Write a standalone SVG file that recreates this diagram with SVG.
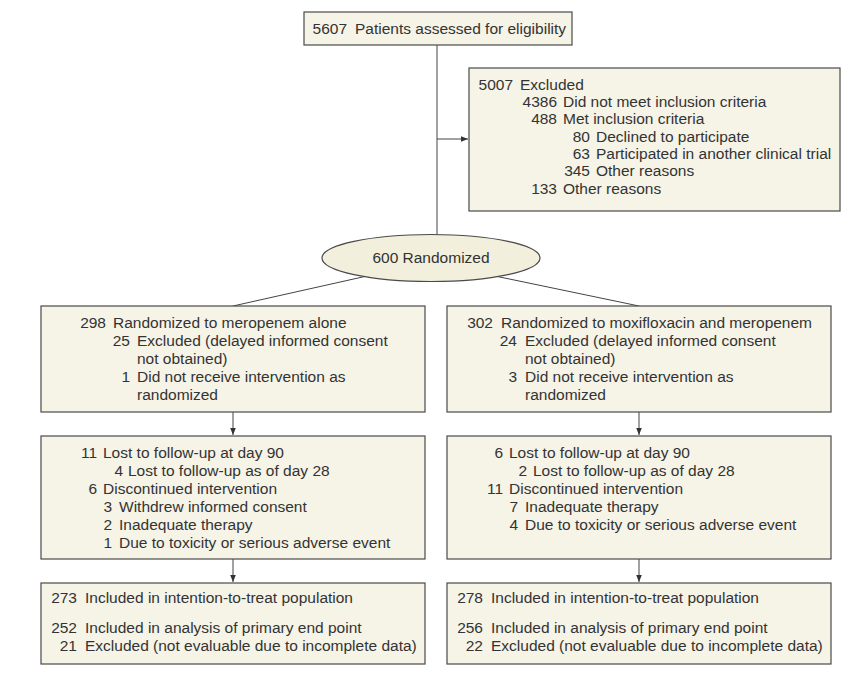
<svg xmlns="http://www.w3.org/2000/svg" width="853" height="674" viewBox="0 0 853 674">
<defs>
<style>
.box{fill:#f6f3e7;stroke:#4a4a4a;stroke-width:1.2}
.ell{fill:#f2efdc;stroke:#4a4a4a;stroke-width:1.2}
.ln{stroke:#444;stroke-width:1;fill:none}
text{font-family:"Liberation Sans",Arial,sans-serif;font-size:15.5px;fill:#333}
.n{text-anchor:end}
</style>
<marker id="ah" viewBox="0 0 10 10" refX="10" refY="5" markerWidth="7" markerHeight="7" markerUnits="userSpaceOnUse" orient="auto">
<path d="M0,1 L10,5 L0,9 Z" fill="#333"/>
</marker>
</defs>
<rect width="853" height="674" fill="#fff"/>
<g id="connectors">
<line class="ln" x1="437" y1="45" x2="437" y2="235"/>
<line class="ln" x1="437" y1="139" x2="468" y2="139" marker-end="url(#ah)"/>
<line class="ln" x1="367" y1="276" x2="233" y2="306"/>
<line class="ln" x1="495" y1="276" x2="639" y2="306"/>
<line class="ln" x1="233" y1="412" x2="233" y2="435" marker-end="url(#ah)"/>
<line class="ln" x1="639" y1="412" x2="639" y2="435" marker-end="url(#ah)"/>
<line class="ln" x1="233" y1="559" x2="233" y2="582" marker-end="url(#ah)"/>
<line class="ln" x1="639" y1="559" x2="639" y2="582" marker-end="url(#ah)"/>
</g>
<g id="assessed">
<rect class="box" x="304" y="12" width="268" height="33"/>
<text class="n" x="347" y="34">5607</text><text x="355" y="34">Patients assessed for eligibility</text>
</g>
<g id="excluded">
<rect class="box" x="469" y="68" width="371" height="143"/>
<text class="n" x="513" y="90">5007</text><text x="520" y="90">Excluded</text>
<text class="n" x="557" y="107">4386</text><text x="563" y="107">Did not meet inclusion criteria</text>
<text class="n" x="557" y="124">488</text><text x="563" y="124">Met inclusion criteria</text>
<text class="n" x="590" y="142">80</text><text x="596" y="142">Declined to participate</text>
<text class="n" x="590" y="159">63</text><text x="596" y="159">Participated in another clinical trial</text>
<text class="n" x="590" y="176">345</text><text x="596" y="176">Other reasons</text>
<text class="n" x="557" y="194">133</text><text x="563" y="194">Other reasons</text>
</g>
<g id="randomized">
<ellipse class="ell" cx="431" cy="258" rx="109" ry="23.5"/>
<text x="431" y="263" text-anchor="middle">600 Randomized</text>
</g>
<g id="alloc-left">
<rect class="box" x="41" y="306" width="384" height="106"/>
<text class="n" x="106" y="328">298</text><text x="113" y="328">Randomized to meropenem alone</text>
<text class="n" x="130" y="346">25</text><text x="137" y="346">Excluded (delayed informed consent</text>
<text x="137" y="364">not obtained)</text>
<text class="n" x="130" y="382">1</text><text x="137" y="382">Did not receive intervention as</text>
<text x="137" y="400">randomized</text>
</g>
<g id="alloc-right">
<rect class="box" x="447" y="306" width="384" height="106"/>
<text class="n" x="493" y="328">302</text><text x="501" y="328">Randomized to moxifloxacin and meropenem</text>
<text class="n" x="517" y="346">24</text><text x="525" y="346">Excluded (delayed informed consent</text>
<text x="525" y="364">not obtained)</text>
<text class="n" x="517" y="382">3</text><text x="525" y="382">Did not receive intervention as</text>
<text x="525" y="400">randomized</text>
</g>
<g id="followup-left">
<rect class="box" x="41" y="436" width="384" height="123"/>
<text class="n" x="97" y="458">11</text><text x="103" y="458">Lost to follow-up at day 90</text>
<text class="n" x="123" y="476">4</text><text x="128" y="476">Lost to follow-up as of day 28</text>
<text class="n" x="97" y="494">6</text><text x="103" y="494">Discontinued intervention</text>
<text class="n" x="112" y="512">3</text><text x="119" y="512">Withdrew informed consent</text>
<text class="n" x="112" y="530">2</text><text x="119" y="530">Inadequate therapy</text>
<text class="n" x="112" y="548">1</text><text x="119" y="548">Due to toxicity or serious adverse event</text>
</g>
<g id="followup-right">
<rect class="box" x="447" y="436" width="384" height="123"/>
<text class="n" x="503" y="458">6</text><text x="509" y="458">Lost to follow-up at day 90</text>
<text class="n" x="527" y="476">2</text><text x="533" y="476">Lost to follow-up as of day 28</text>
<text class="n" x="503" y="494">11</text><text x="509" y="494">Discontinued intervention</text>
<text class="n" x="518" y="512">7</text><text x="525" y="512">Inadequate therapy</text>
<text class="n" x="518" y="530">4</text><text x="525" y="530">Due to toxicity or serious adverse event</text>
</g>
<g id="analysis-left">
<rect class="box" x="41" y="583" width="384" height="81"/>
<text class="n" x="77" y="603">273</text><text x="85" y="603">Included in intention-to-treat population</text>
<text class="n" x="77" y="633">252</text><text x="85" y="633">Included in analysis of primary end point</text>
<text class="n" x="77" y="651">21</text><text x="85" y="651">Excluded (not evaluable due to incomplete data)</text>
</g>
<g id="analysis-right">
<rect class="box" x="447" y="583" width="384" height="81"/>
<text class="n" x="483" y="603">278</text><text x="491" y="603">Included in intention-to-treat population</text>
<text class="n" x="483" y="633">256</text><text x="491" y="633">Included in analysis of primary end point</text>
<text class="n" x="483" y="651">22</text><text x="491" y="651">Excluded (not evaluable due to incomplete data)</text>
</g>
</svg>
